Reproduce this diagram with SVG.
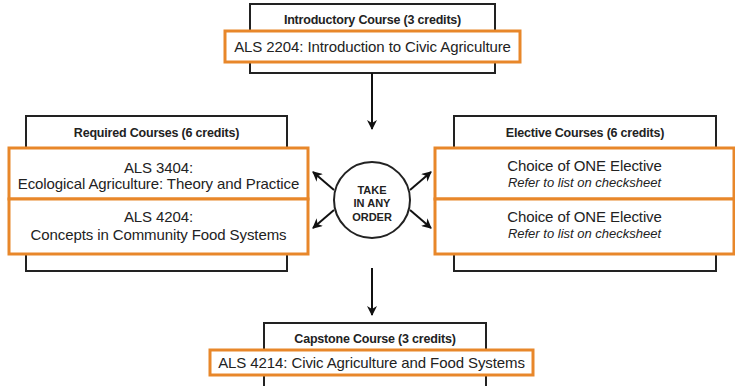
<svg xmlns="http://www.w3.org/2000/svg" width="735" height="386" viewBox="0 0 735 386">
<style>
.outer{fill:#fff;stroke:#222;stroke-width:2}
.inner{fill:#fff;stroke:#e8872a;stroke-width:3}
.title{font-family:"Liberation Sans",Arial,sans-serif;font-weight:bold;font-size:12.5px;fill:#222;text-anchor:middle;letter-spacing:-0.2px}
.course{font-family:"Liberation Sans",Arial,sans-serif;font-size:15px;fill:#222;text-anchor:middle;letter-spacing:-0.1px}
.note{font-family:"Liberation Sans",Arial,sans-serif;font-style:italic;font-size:13px;fill:#222;text-anchor:middle}
.circ{font-family:"Liberation Sans",Arial,sans-serif;font-weight:bold;font-size:11px;fill:#222;text-anchor:middle}
.conn{stroke:#111;stroke-width:2;fill:none;marker-end:url(#ah)}
</style>
<defs>
<marker id="ah" viewBox="0 0 10 10" refX="9" refY="5" markerWidth="5" markerHeight="5" orient="auto" markerUnits="strokeWidth">
<path d="M0,0 L10,5 L0,10 L3,5 Z" fill="#111"/>
</marker>
</defs>
<rect width="735" height="386" fill="#fff"/>
<g id="intro">
<rect class="outer" x="250" y="4" width="245" height="69"/>
<text class="title" x="372.5" y="24">Introductory Course (3 credits)</text>
<rect class="inner" x="225" y="31" width="295" height="31"/>
<text class="course" x="372.5" y="52">ALS 2204: Introduction to Civic Agriculture</text>
</g>
<g id="required">
<rect class="outer" x="26" y="116" width="261" height="155"/>
<text class="title" x="156.5" y="137">Required Courses (6 credits)</text>
<rect class="inner" x="9" y="148" width="299" height="51"/>
<rect class="inner" x="9" y="199" width="299" height="55"/>
<text class="course" x="158.5" y="173">ALS 3404:</text>
<text class="course" x="158.5" y="189">Ecological Agriculture: Theory and Practice</text>
<text class="course" x="158.5" y="222">ALS 4204:</text>
<text class="course" x="158.5" y="240">Concepts in Community Food Systems</text>
</g>
<g id="elective">
<rect class="outer" x="454" y="116" width="262" height="155"/>
<text class="title" x="585" y="137">Elective Courses (6 credits)</text>
<rect class="inner" x="435" y="148" width="299" height="51"/>
<rect class="inner" x="435" y="199" width="299" height="55"/>
<text class="course" x="584.5" y="171">Choice of ONE Elective</text>
<text class="note" x="584.5" y="187">Refer to list on checksheet</text>
<text class="course" x="584.5" y="222">Choice of ONE Elective</text>
<text class="note" x="584.5" y="238">Refer to list on checksheet</text>
</g>
<g id="order">
<circle cx="372" cy="200" r="38" fill="#fff" stroke="#222" stroke-width="2"/>
<text class="circ" x="372" y="194">TAKE</text>
<text class="circ" x="372" y="207">IN ANY</text>
<text class="circ" x="372" y="221">ORDER</text>
</g>
<g id="capstone">
<rect class="outer" x="264" y="323" width="222" height="70"/>
<text class="title" x="375" y="343">Capstone Course (3 credits)</text>
<rect class="inner" x="210" y="350" width="323" height="25"/>
<text class="course" x="371.5" y="367.5">ALS 4214: Civic Agriculture and Food Systems</text>
</g>
<g id="connectors">
<line class="conn" x1="372" y1="73" x2="372" y2="129"/>
<line class="conn" x1="372" y1="268" x2="372" y2="315"/>
<line class="conn" x1="334" y1="190" x2="313" y2="172"/>
<line class="conn" x1="334" y1="210" x2="313" y2="228"/>
<line class="conn" x1="410" y1="190" x2="431" y2="172"/>
<line class="conn" x1="410" y1="210" x2="431" y2="228"/>
</g>
</svg>
